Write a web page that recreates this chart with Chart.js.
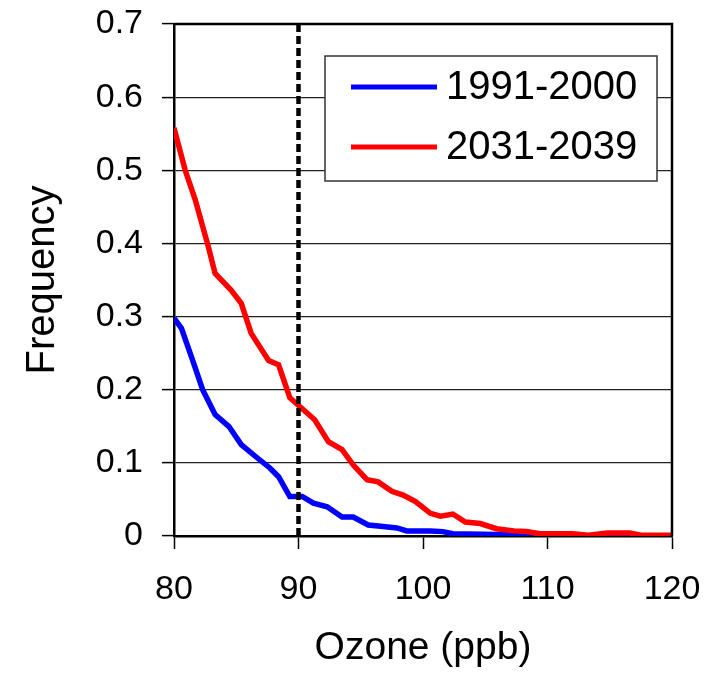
<!DOCTYPE html>
<html>
<head>
<meta charset="utf-8">
<script src="https://cdn.jsdelivr.net/npm/chart.js@4.4.1/dist/chart.umd.min.js"></script>
<style>
  body { margin: 0; background: #fff; }
  canvas { display: block; }
</style>
</head>
<body>
<canvas id="ozone_graph" width="718" height="675"></canvas>
<script>
// ozone frequency curves
const ozone_1991 = [80, 80.6, 81.5, 82.3, 83.3, 84.4, 85.4, 86.6, 87.7, 88.4, 89.3, 90.3, 91.2, 92.3, 93.5, 94.4, 95.6, 96.8, 97.9, 98.7, 100.6, 101.6, 102.4, 105.9, 108.8, 110, 120];
const freq_1991 = [0.298, 0.284, 0.24, 0.2, 0.166, 0.15, 0.125, 0.108, 0.093, 0.081, 0.054, 0.054, 0.045, 0.04, 0.026, 0.026, 0.015, 0.013, 0.011, 0.007, 0.007, 0.006, 0.003, 0.002, 0.001, 0, 0];

const ozone_2031 = [80, 80.9, 81.7, 82.75, 83.3, 84.6, 85.4, 86.2, 87.6, 88.4, 89.3, 90.1, 91.3, 92.4, 93.5, 94.4, 95.5, 96.4, 97.5, 98.4, 99.4, 100.6, 101.4, 102.4, 103.4, 104.6, 105.9, 107.3, 108.3, 109.4, 112, 113.3, 114.8, 116.6, 117.5, 120];
const freq_2031 = [0.558, 0.5, 0.46, 0.396, 0.359, 0.336, 0.318, 0.277, 0.24, 0.234, 0.189, 0.177, 0.159, 0.129, 0.118, 0.097, 0.077, 0.074, 0.061, 0.056, 0.047, 0.031, 0.027, 0.03, 0.019, 0.017, 0.01, 0.007, 0.006, 0.003, 0.003, 0.001, 0.004, 0.004, 0.001, 0.001];

const series_labels = ['1991-2000', '2031-2039'];
const threshold = 90;
const x_range = [80, 120];
const y_range = [0, 0.7];

const FONT = '"Liberation Sans", Arial, sans-serif';

function to_points(xs, ys){
    let pts = [];
    for(let i=0;i<xs.length;i++){
        pts.push({x:xs[i], y:ys[i]});
    }
    return pts;
}

// box round the plot (top and right edges)
const frame = {
    id: 'frame',
    afterDatasetsDraw(chart){
        const {ctx, chartArea:a} = chart;
        ctx.save();
        ctx.strokeStyle = '#000';
        ctx.lineWidth = 2.5;
        ctx.beginPath();
        ctx.moveTo(a.left, a.top);
        ctx.lineTo(a.right, a.top);
        ctx.lineTo(a.right, a.bottom);
        ctx.stroke();
        ctx.restore();
    }
};

// legend box inside the plot, upper right
const box_legend = {
    id: 'box_legend',
    afterDraw(chart){
        const ctx = chart.ctx;
        const sets = chart.data.datasets.filter(d => d.label);
        ctx.save();
        ctx.fillStyle = '#fff';
        ctx.fillRect(325, 56, 332, 125);
        ctx.strokeStyle = '#333';
        ctx.lineWidth = 1.5;
        ctx.strokeRect(325, 56, 332, 125);
        ctx.font = '40px ' + FONT;
        ctx.textBaseline = 'middle';
        ctx.textAlign = 'left';
        sets.forEach((d, i) => {
            const y = 87 + i * 60;
            ctx.strokeStyle = d.borderColor;
            ctx.lineWidth = 5;
            ctx.beginPath();
            ctx.moveTo(351, y);
            ctx.lineTo(437, y);
            ctx.stroke();
            ctx.fillStyle = '#000';
            ctx.fillText(d.label, 446, y + 1);
        });
        ctx.restore();
    }
};

const graph = document.getElementById('ozone_graph').getContext('2d');

new Chart(graph, {
    type: 'line',
    data: {
        datasets: [{
            data: [{x:threshold, y:y_range[0]}, {x:threshold, y:y_range[1]}],
            borderColor: '#000',
            borderWidth: 4.5,
            borderDash: [8, 4],
            pointRadius: 0,
            order: 0
        }, {
            label: series_labels[0],
            data: to_points(ozone_1991, freq_1991),
            borderColor: '#0000ff',
            borderWidth: 5.5,
            pointRadius: 0,
            order: 2
        }, {
            label: series_labels[1],
            data: to_points(ozone_2031, freq_2031),
            borderColor: '#ff0000',
            borderWidth: 5.5,
            pointRadius: 0,
            order: 1
        }]
    },
    options: {
        responsive: false,
        animation: false,
        layout: { padding: { left: 0, top: 24, right: 46, bottom: 0 } },
        plugins: { legend: { display: false }, tooltip: { enabled: false } },
        scales: {
            x: {
                type: 'linear',
                min: x_range[0],
                max: x_range[1],
                afterFit: s => { s.height = 139; s.paddingLeft = 0; s.paddingRight = 0; },
                ticks: { stepSize: 10, padding: 20, color: '#000', font: { size: 34, family: FONT } },
                grid: { drawOnChartArea: false, tickLength: 13, tickColor: '#000', tickWidth: 1.5 },
                border: { color: '#000', width: 2.5 },
                title: { display: true, text: 'Ozone (ppb)', color: '#000', padding: { top: 0, bottom: 3 }, font: { size: 39, family: FONT } }
            },
            y: {
                min: y_range[0],
                max: y_range[1],
                afterFit: s => { s.width = 174; s.paddingTop = 0; s.paddingBottom = 0; },
                ticks: { stepSize: 0.1, padding: 19, color: '#000', font: { size: 34, family: FONT }, callback: v => String(+v.toFixed(1)) },
                grid: { color: '#222', lineWidth: 1.2, tickLength: 12, tickColor: '#000', tickWidth: 1.5 },
                border: { color: '#000', width: 2.5 },
                title: { display: true, text: 'Frequency', color: '#000', padding: { top: 19, bottom: 0 }, font: { size: 40, family: FONT } }
            }
        }
    },
    plugins: [frame, box_legend]
});
</script>
</body>
</html>
